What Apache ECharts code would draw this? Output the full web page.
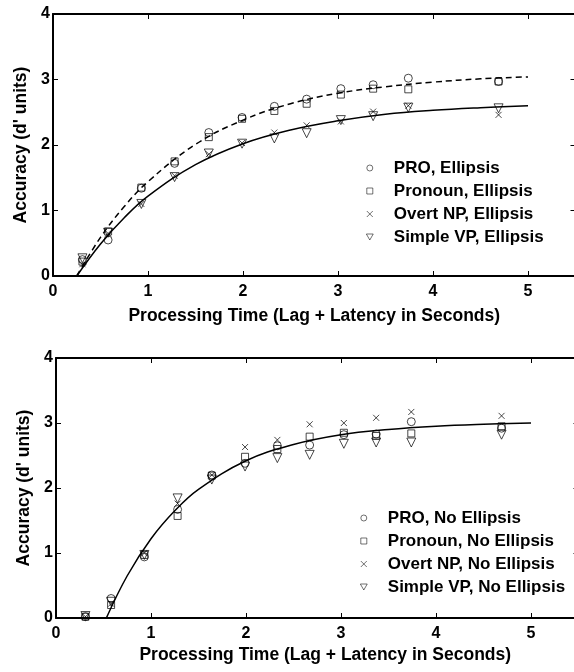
<!DOCTYPE html>
<html>
<head>
<meta charset="utf-8">
<script src="https://cdn.jsdelivr.net/npm/echarts@6/dist/echarts.min.js"></script>
<style>
  html, body { margin: 0; padding: 0; background: #fff; }
  #chart { width: 574px; height: 672px; }
</style>
</head>
<body>
<div id="chart"></div>
<script>
// lag + latency (s) for the 12 lags, shared by both panels
var times = [0.31, 0.58, 0.93, 1.28, 1.64, 1.99, 2.33, 2.67, 3.03, 3.37, 3.74, 4.69];

// top panel: ellipsis
var proE = [0.25, 0.55, 1.34, 1.72, 2.19, 2.42, 2.59, 2.70, 2.86, 2.92, 3.02, 2.97];
var pronounE = [0.22, 0.68, 1.35, 1.75, 2.12, 2.40, 2.52, 2.63, 2.77, 2.86, 2.85, 2.97];
var overtE = [0.18, 0.65, 1.10, 1.53, 1.86, 2.03, 2.19, 2.30, 2.36, 2.51, 2.60, 2.46];
var simpleE = [0.27, 0.66, 1.10, 1.51, 1.87, 2.02, 2.10, 2.18, 2.38, 2.44, 2.57, 2.56];

// bottom panel: no ellipsis
var proN = [0.02, 0.30, 0.94, 1.67, 2.20, 2.38, 2.65, 2.66, 2.82, 2.83, 3.02, 2.92];
var pronounN = [0.02, 0.20, 0.97, 1.57, 2.19, 2.48, 2.60, 2.79, 2.85, 2.80, 2.84, 2.95];
var overtN = [0.02, 0.22, 1.00, 1.76, 2.20, 2.63, 2.74, 2.98, 3.00, 3.08, 3.17, 3.11];
var simpleN = [0.03, 0.25, 0.97, 1.84, 2.13, 2.33, 2.46, 2.51, 2.68, 2.70, 2.70, 2.82];

// fitted curves
var fitTimesE = [0.25, 0.5, 0.75, 1, 1.5, 2, 2.5, 3, 3.5, 4, 4.5, 5];
var fitDashedE = [0, 0.59, 1.06, 1.44, 2.01, 2.38, 2.63, 2.79, 2.89, 2.96, 3.01, 3.04];
var fitSolidE = [0, 0.49, 0.89, 1.22, 1.70, 2.02, 2.23, 2.37, 2.47, 2.53, 2.57, 2.60];
var fitTimesN = [0.53, 0.75, 1, 1.25, 1.5, 2, 2.5, 3, 3.5, 4, 4.5, 5];
var fitSolidN = [0, 0.65, 1.22, 1.65, 1.98, 2.42, 2.67, 2.82, 2.90, 2.95, 2.98, 3.00];

var xTicks = [0, 1, 2, 3, 4, 5];
var yTicks = [0, 1, 2, 3, 4];

var FONT = 'Liberation Sans';
var symCross = 'path://M0,0L10,10M10,0L0,10';
var symSquare = 'path://M0,0L10,0L10,10L0,10Z';
var symTriDown = 'path://M0,0L10,0L5,8.7Z';

function pairs(xs, ys) {
    return xs.map(function(x, i) { return [x, ys[i]]; });
}

function xAx(gridIndex, pos, labels, name, gap, shift) {
    return {
        type: 'value', gridIndex: gridIndex, position: pos,
        min: xTicks[0], max: 5.5, interval: 1,
        name: labels ? name : '', nameLocation: 'middle', nameGap: gap,
        nameTextStyle: { fontFamily: FONT, fontWeight: 'bold', fontSize: 17.5, color: '#000',
            padding: [0, 0, 0, shift || 0] },
        axisLine: { show: true, onZero: false, lineStyle: { color: '#000', width: 2 } },
        axisTick: { show: true, inside: true, length: 5, lineStyle: { color: '#000', width: 1 } },
        axisLabel: { show: labels, margin: 8, fontFamily: FONT, fontWeight: 'bold', fontSize: 16, color: '#000',
            formatter: function(v) { return xTicks.indexOf(v) >= 0 ? v : ''; } },
        splitLine: { show: false }
    };
}

function yAx(gridIndex, pos, labels) {
    return {
        type: 'value', gridIndex: gridIndex, position: pos,
        min: yTicks[0], max: yTicks[yTicks.length - 1], interval: 1,
        name: labels ? "Accuracy (d' units)" : '', nameLocation: 'middle', nameGap: 23,
        nameTextStyle: { fontFamily: FONT, fontWeight: 'bold', fontSize: 17.5, color: '#000' },
        axisLine: { show: true, onZero: false, lineStyle: { color: '#000', width: 2 } },
        axisTick: { show: true, inside: true, length: 5, lineStyle: { color: '#000', width: 1 } },
        axisLabel: { show: labels, margin: 3, fontFamily: FONT, fontWeight: 'bold', fontSize: 16, color: '#000' },
        splitLine: { show: false }
    };
}

function marks(name, idx, data, symbol, size) {
    return {
        name: name, type: 'scatter', xAxisIndex: idx, yAxisIndex: idx,
        symbol: symbol, symbolSize: size,
        itemStyle: { color: 'transparent', borderColor: '#000', borderWidth: 0.9 },
        data: data, z: 3
    };
}

function fit(idx, xs, ys, dashed) {
    return {
        type: 'line', xAxisIndex: idx, yAxisIndex: idx,
        data: pairs(xs, ys), smooth: 0.4, showSymbol: false, silent: true,
        lineStyle: { color: '#000', width: 1.5, type: dashed ? [6, 4] : 'solid' },
        z: 2
    };
}

function legend(left, top, names) {
    return {
        orient: 'vertical', left: left, top: top, data: names,
        itemWidth: 38, itemHeight: 6, itemGap: 5, symbolKeepAspect: true,
        itemStyle: { borderWidth: 0.7 },
        textStyle: { fontFamily: FONT, fontWeight: 'bold', fontSize: 17, color: '#000', lineHeight: 18 },
        inactiveColor: '#000'
    };
}

var namesE = ['PRO, Ellipsis', 'Pronoun, Ellipsis', 'Overt NP, Ellipsis', 'Simple VP, Ellipsis'];
var namesN = ['PRO, No Ellipsis', 'Pronoun, No Ellipsis', 'Overt NP, No Ellipsis', 'Simple VP, No Ellipsis'];
var xName = 'Processing Time (Lag + Latency in Seconds)';

var chart = echarts.init(document.getElementById('chart'), null, { renderer: 'canvas' });
chart.setOption({
    backgroundColor: '#fff',
    animation: false,
    grid: [
        { left: 53, top: 14, width: 522.5, height: 262, outerBoundsMode: 'none', containLabel: false },
        { left: 56, top: 358, width: 522.5, height: 260, outerBoundsMode: 'none', containLabel: false }
    ],
    xAxis: [
        xAx(0, 'bottom', true, xName, 31, 0),
        xAx(1, 'bottom', true, xName, 28, 16),
        xAx(0, 'top', false, '', 0),
        xAx(1, 'top', false, '', 0)
    ],
    yAxis: [
        yAx(0, 'left', true),
        yAx(1, 'left', true),
        yAx(0, 'right', false),
        yAx(1, 'right', false)
    ],
    legend: [
        legend(361, 154, namesE),
        legend(355, 504, namesN)
    ],
    series: [
        fit(0, fitTimesE, fitDashedE, true),
        fit(0, fitTimesE, fitSolidE, false),
        fit(1, fitTimesN, fitSolidN, false),
        marks(namesE[0], 0, pairs(times, proE), 'circle', 8),
        marks(namesE[1], 0, pairs(times, pronounE), symSquare, 7),
        marks(namesE[2], 0, pairs(times, overtE), symCross, 6),
        marks(namesE[3], 0, pairs(times, simpleE), symTriDown, 9),
        marks(namesN[0], 1, pairs(times, proN), 'circle', 8),
        marks(namesN[1], 1, pairs(times, pronounN), symSquare, 7),
        marks(namesN[2], 1, pairs(times, overtN), symCross, 6),
        marks(namesN[3], 1, pairs(times, simpleN), symTriDown, 9)
    ]
});
window.onresize = function() { chart.resize(); };
</script>
</body>
</html>
